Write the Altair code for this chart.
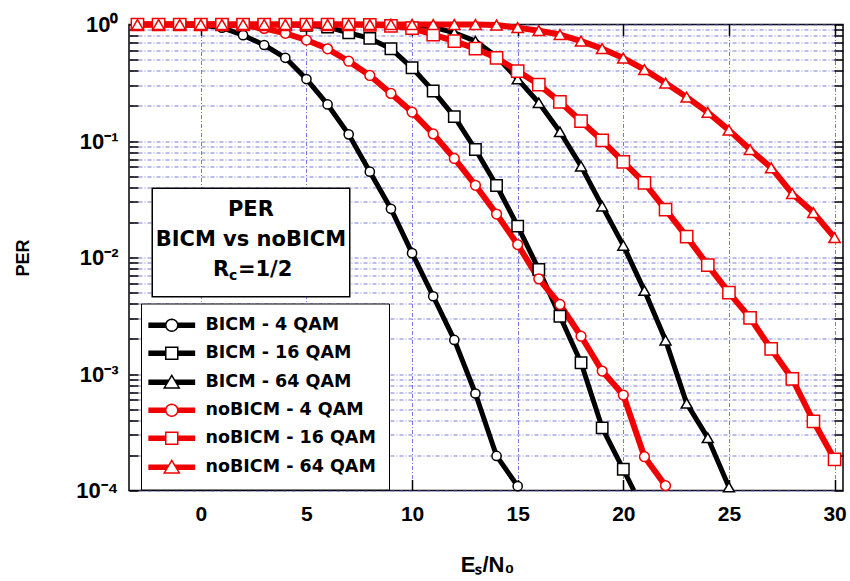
import math
import altair as alt
import pandas as pd

# ---------------- data ----------------
series_names = ["BICM - 4 QAM", "BICM - 16 QAM", "BICM - 64 QAM",
                "noBICM - 4 QAM", "noBICM - 16 QAM", "noBICM - 64 QAM"]

x_bicm_4 = [-3, -2, -1, 0, 1, 2, 3, 4, 5, 6, 7, 8, 9, 10, 11, 12, 13, 14, 15]
per_bicm_4 = [1.0, 1.0, 0.995, 0.985, 0.94, 0.81, 0.667, 0.518, 0.34, 0.206,
              0.114, 0.0545, 0.0262, 0.0109, 0.00465, 0.00196, 6.8e-4, 1.98e-4, 1.09e-4]

x_bicm_16 = [-3, -2, -1, 0, 1, 2, 3, 4, 5, 6, 7, 8, 9, 10, 11, 12, 13, 14, 15,
             16, 17, 18, 19, 20, 20.5]
per_bicm_16 = [1.0, 1.0, 1.0, 1.0, 1.0, 1.0, 0.998, 0.995, 0.985, 0.95, 0.85, 0.76,
               0.62, 0.425, 0.269, 0.162, 0.0845, 0.0415, 0.0186, 0.00789, 0.00313,
               0.00125, 3.45e-4, 1.52e-4, 1.0e-4]

x_bicm_64 = [-3, -2, -1, 0, 1, 2, 3, 4, 5, 6, 7, 8, 9, 10, 11, 12, 13, 14, 15,
             16, 17, 18, 19, 20, 21, 22, 23, 24, 25]
per_bicm_64 = [1.0, 1.0, 1.0, 1.0, 1.0, 1.0, 1.0, 1.0, 1.0, 1.0, 1.0, 1.0, 0.998,
               0.99, 0.95, 0.85, 0.72, 0.53, 0.34, 0.213, 0.12, 0.0608, 0.0276,
               0.0127, 0.0052, 0.00195, 5.6e-4, 2.83e-4, 1.07e-4]

x_nobicm_4 = [-3, -2, -1, 0, 1, 2, 3, 4, 5, 6, 7, 8, 9, 10, 11, 12, 13, 14, 15,
              16, 17, 18, 19, 20, 21, 22]
per_nobicm_4 = [1.0, 1.0, 1.0, 1.0, 0.995, 0.98, 0.925, 0.84, 0.736, 0.618, 0.484,
                0.365, 0.256, 0.177, 0.115, 0.0708, 0.0417, 0.0236, 0.0129, 0.00656,
                0.00395, 0.00211, 0.00106, 6.6e-4, 1.95e-4, 1.1e-4]

x_nobicm_16 = [-3, -2, -1, 0, 1, 2, 3, 4, 5, 6, 7, 8, 9, 10, 11, 12, 13, 14, 15,
               16, 17, 18, 19, 20, 21, 22, 23, 24, 25, 26, 27, 28, 29, 30]
per_nobicm_16 = [1.0, 1.0, 1.0, 1.0, 1.0, 1.0, 1.0, 1.0, 1.0, 1.0, 1.0, 0.995, 0.975,
                 0.93, 0.82, 0.72, 0.62, 0.518, 0.398, 0.305, 0.217, 0.148, 0.101,
                 0.0663, 0.0438, 0.0258, 0.0151, 0.0086, 0.005, 0.00303, 0.00164,
                 9.1e-4, 3.93e-4, 1.85e-4]

x_nobicm_64 = [-3, -2, -1, 0, 1, 2, 3, 4, 5, 6, 7, 8, 9, 10, 11, 12, 13, 14, 15,
               16, 17, 18, 19, 20, 21, 22, 23, 24, 25, 26, 27, 28, 29, 30]
per_nobicm_64 = [1.0, 1.0, 1.0, 1.0, 1.0, 1.0, 1.0, 1.0, 1.0, 1.0, 1.0, 1.0, 1.0,
                 1.0, 1.0, 1.0, 1.0, 0.99, 0.94, 0.885, 0.82, 0.72, 0.62, 0.515, 0.41,
                 0.315, 0.238, 0.176, 0.124, 0.0845, 0.059, 0.0353, 0.0243, 0.0148]

x_tick_values = [0, 5, 10, 15, 20, 25, 30]
y_decades = [0.0001, 0.001, 0.01, 0.1, 1]
y_decade_labels = ["10⁻⁴", "10⁻³", "10⁻²", "10⁻¹", "10⁰"]
y_minor_mult = [1, 2, 3, 4, 5, 6, 7, 8, 9]

annot_lines = ["PER", "BICM vs noBICM"]

# ---------------- styles ----------------
series_colors = ["black", "black", "black", "#f00000", "#f00000", "#f00000"]
series_shapes = ["circle", "square", "triangle-up", "circle", "square", "triangle-up"]
series_msize = [85, 130, 120, 95, 150, 130]
series_lw = [5, 5, 5, 6, 6, 6]

xs_all = [x_bicm_4, x_bicm_16, x_bicm_64, x_nobicm_4, x_nobicm_16, x_nobicm_64]
ys_all = [per_bicm_4, per_bicm_16, per_bicm_64, per_nobicm_4, per_nobicm_16, per_nobicm_64]

rows = []
for i, name in enumerate(series_names):
    for xv, yv in zip(xs_all[i], ys_all[i]):
        rows.append({"series": name, "x": xv, "per": yv, "col": series_colors[i],
                     "mk": series_shapes[i], "ms": series_msize[i], "lw": series_lw[i]})
df = pd.DataFrame(rows)

y_tick_values = [m * d for d in y_decades[:-1] for m in y_minor_mult] + [1]

W, H = 714, 466
xscale = alt.Scale(domain=[-3.4, 30.4], nice=False, zero=False)
yscale = alt.Scale(type="log", domain=[1e-4, 1], nice=False)

grid_color = "#6a6ad6"
axis_font = "Liberation Sans"

label_expr = ("[" + ",".join("'" + s + "'" for s in y_decade_labels) + "][indexof(["
              + ",".join(repr(v) for v in y_decades) + "], datum.value)] || ''")

x_axis_main = alt.Axis(orient="bottom", values=x_tick_values, grid=True, gridColor=grid_color,
                       gridDash=[4, 2, 1, 2], gridWidth=1, gridOpacity=0.9,
                       ticks=False, tickSize=0, domain=False, labelFlush=False,
                       labelFont=axis_font, labelFontSize=21, labelFontWeight="bold",
                       labelColor="black", labelPadding=13,
                       title="Eₛ/N₀", titleFont=axis_font, titleFontSize=22,
                       titleFontWeight="bold", titleColor="black", titleX=358, titleY=81,
                       titleBaseline="alphabetic", titleAlign="center")
y_axis_main = alt.Axis(orient="left", values=y_tick_values, grid=True, gridColor=grid_color,
                       gridDash=[4, 2, 1, 2], gridWidth=1, gridOpacity=0.9,
                       ticks=False, tickSize=0, domain=False, labelExpr=label_expr,
                       labelOverlap=False, labelFlush=False,
                       labelFont=axis_font, labelFontSize=22, labelFontWeight="bold",
                       labelColor="black", labelPadding=11, labelBaseline="middle",
                       title="PER", titleFont=axis_font, titleFontSize=18,
                       titleFontWeight="bold", titleColor="black", titleAngle=270,
                       titleX=-106, titleY=233, titleAlign="center", titleBaseline="middle")

def tick_axis(orient, values, offset, size):
    return alt.Axis(orient=orient, values=values, offset=offset, grid=False, labels=False,
                    domain=False, ticks=True, tickSize=size, tickColor="black",
                    tickWidth=1.5, title=None)

# ---------------- layers ----------------
lines = alt.Chart(df).mark_line(strokeJoin="round").encode(
    x=alt.X("x:Q", scale=xscale, axis=x_axis_main),
    y=alt.Y("per:Q", scale=yscale, axis=y_axis_main),
    color=alt.Color("col:N", scale=None),
    strokeWidth=alt.StrokeWidth("lw:Q", scale=None),
    detail="series:N",
)

points = alt.Chart(df).transform_filter("datum.x == floor(datum.x)").mark_point(
    filled=True, fill="white", opacity=1, strokeWidth=1.5
).encode(
    x=alt.X("x:Q", scale=xscale, axis=tick_axis("top", x_tick_values, -H, 11)),
    y=alt.Y("per:Q", scale=yscale, axis=tick_axis("right", y_tick_values, -W, 9)),
    stroke=alt.Stroke("col:N", scale=None),
    shape=alt.Shape("mk:N", scale=None),
    size=alt.Size("ms:Q", scale=None),
)

# legend symbols: thick line with a hollow marker in the middle
band_ys = [-0.34, -0.17, 0.0, 0.17, 0.34]
half_len = 3.9

def bars(edge):
    return "".join(f"M{-half_len},{y}H{-edge(y):.3f}M{edge(y):.3f},{y}H{half_len}" for y in band_ys)

circle_poly = "M" + "L".join(f"{math.cos(2 * math.pi * k / 28):.3f},{math.sin(2 * math.pi * k / 28):.3f}"
                             for k in range(28)) + "Z"
path_circle = bars(lambda y: math.sqrt(1 - y * y)) + circle_poly
path_square = bars(lambda y: 1.0) + "M-1,-1H1V1H-1Z"
path_tri = bars(lambda y: 1.25 * (y + 1.15) / 2.1) + "M0,-1.15L1.25,0.95L-1.25,0.95Z"
legend_paths = [path_circle, path_square, path_tri, path_circle, path_square, path_tri]

leg = alt.Legend(title=None, orient="none", legendX=12, legendY=279, direction="vertical",
                 padding=13, rowPadding=9, symbolSize=144, symbolStrokeWidth=1.5,
                 symbolOffset=9, labelOffset=25, symbolFillColor="white",
                 labelFont="DejaVu Sans", labelFontSize=17.5, labelFontWeight="bold",
                 labelColor="black", labelLimit=400, strokeColor="black", fillColor="white")

legend_layer = alt.Chart(df).transform_filter("datum.x > 1000").mark_point(
    filled=False, opacity=1, strokeWidth=1.5
).encode(
    x=alt.X("x:Q", scale=xscale, axis=None),
    y=alt.Y("per:Q", scale=yscale, axis=None),
    shape=alt.Shape("series:N", scale=alt.Scale(domain=series_names, range=legend_paths), legend=leg),
    stroke=alt.Stroke("series:N", scale=alt.Scale(domain=series_names, range=series_colors), legend=leg),
)

# annotation box (data coordinates)
box_df = pd.DataFrame({"x0": [-2.3], "x1": [7.05], "y0": [0.0393], "y1": [0.00461]})
box = alt.Chart(box_df).mark_rect(fill="white", stroke="black", strokeWidth=1.5).encode(
    x=alt.X("x0:Q", scale=xscale, axis=tick_axis("bottom", x_tick_values, -H, 11)),
    x2="x1:Q",
    y=alt.Y("y0:Q", scale=yscale, axis=tick_axis("left", y_tick_values, -W, 9)),
    y2="y1:Q",
)

ann_df = pd.DataFrame({"x": [2.37, 2.37], "y": [0.0256, 0.01413], "t": annot_lines})
ann = alt.Chart(ann_df).mark_text(font="DejaVu Sans", fontWeight="bold", fontSize=21,
                                  align="center", baseline="middle", color="black").encode(
    x=alt.X("x:Q", scale=xscale, axis=None),
    y=alt.Y("y:Q", scale=yscale, axis=None),
    text="t:N",
)

rc_df = pd.DataFrame({"x": [2.37], "y": [0.00781]})

def rc_piece(txt, dx, dy, size):
    return alt.Chart(rc_df).mark_text(font="DejaVu Sans", fontWeight="bold", fontSize=size,
                                      align="left", baseline="middle", color="black",
                                      dx=dx, dy=dy).encode(
        x=alt.X("x:Q", scale=xscale, axis=None),
        y=alt.Y("y:Q", scale=yscale, axis=None),
        text=alt.value(txt),
    )

rc_R = rc_piece("R", -38, 0, 21)
rc_c = rc_piece("c", -22, 6, 14)
rc_rest = rc_piece("=1/2", -13, 0, 21)

chart = alt.layer(lines, points, legend_layer, box, ann, rc_R, rc_c, rc_rest).resolve_axis(
    x="independent", y="independent"
).properties(
    width=W, height=H,
    padding={"left": 129, "top": 24.5, "right": 7, "bottom": 90.5},
    autosize=alt.AutoSizeParams(type="none"),
    background="white",
).configure_view(stroke="black", strokeWidth=1.5)

chart.save("out.html", embed_options={"renderer": "svg", "actions": False})
